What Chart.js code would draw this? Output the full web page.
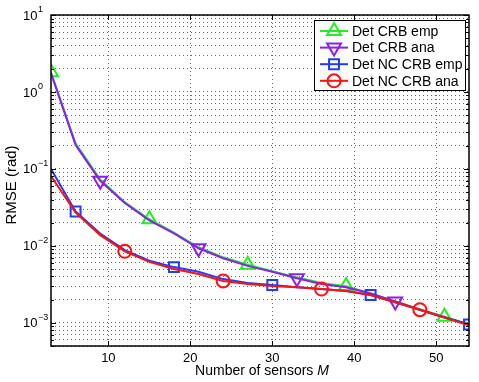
<!DOCTYPE html>
<html>
<head>
<meta charset="utf-8">
<script src="https://cdn.jsdelivr.net/npm/chart.js@4"></script>
<style>
  html, body { margin: 0; padding: 0; background: #fff; }
  #wrap { width: 479px; height: 382px; }
</style>
</head>
<body>
<div id="wrap"><canvas id="rmseChart" width="479" height="382"></canvas></div>
<script>
// Number of sensors M (every 3)
const sensors = [3, 6, 9, 12, 15, 18, 21, 24, 27, 30, 33, 36, 39, 42, 45, 48, 51, 54];

// RMSE values (rad)
const detCrbEmp = [1.8, 0.215, 0.073, 0.037, 0.0222, 0.0149, 0.0096, 0.0071, 0.0057, 0.0047, 0.0039, 0.0033, 0.0030, 0.0024, 0.0019, 0.00150, 0.00120, 0.00096];
const detCrbAna = [1.75, 0.205, 0.070, 0.036, 0.0215, 0.0145, 0.0093, 0.0069, 0.0055, 0.0046, 0.0038, 0.0032, 0.0029, 0.0024, 0.0019, 0.00148, 0.00118, 0.00095];
const detNcCrbEmp = [0.100, 0.028, 0.0145, 0.0088, 0.0064, 0.0053, 0.0046, 0.0037, 0.0033, 0.0031, 0.0029, 0.00275, 0.0026, 0.0023, 0.00185, 0.00148, 0.00117, 0.00095];
const detNcCrbAna = [0.081, 0.027, 0.0138, 0.0085, 0.0062, 0.0050, 0.0043, 0.0035, 0.0032, 0.0030, 0.0029, 0.00275, 0.0026, 0.0023, 0.00185, 0.00148, 0.00117, 0.00093];

const seriesNames = ['Det CRB emp', 'Det CRB ana', 'Det NC CRB emp', 'Det NC CRB ana'];
const xTicks = [10, 20, 30, 40, 50];
const yExponents = [1, 0, -1, -2, -3];

const FONT = '"Liberation Sans", Arial, Helvetica, sans-serif';

function toPoints(vals) {
  return sensors.map((m, i) => ({ x: m, y: vals[i] }));
}

// marker every 12 sensors, with an offset per series
function markerEvery(offsetM, r) {
  return function (ctx) {
    const m = sensors[ctx.dataIndex];
    return ((m - offsetM) % 12 === 0 && m >= offsetM) ? r : 0;
  };
}

const styles = [
  { color: '#22ee22', shape: 'triangle', rot: 0, r: 8, offset: 3, order: 3 },
  { color: '#8a1ff0', shape: 'triangle', rot: 180, r: 8, offset: 9, order: 2 },
  { color: '#1f3cff', shape: 'rect', rot: 0, r: 7, offset: 6, order: 1 },
  { color: '#ff1010', shape: 'circle', rot: 0, r: 6.5, offset: 12, order: 0 }
];
const allValues = [detCrbEmp, detCrbAna, detNcCrbEmp, detNcCrbAna];

const datasets = allValues.map((vals, i) => ({
  label: seriesNames[i],
  data: toPoints(vals),
  borderColor: styles[i].color,
  borderWidth: 2,
  tension: 0,
  fill: false,
  order: styles[i].order,
  pointStyle: styles[i].shape,
  pointRotation: styles[i].rot,
  pointRadius: markerEvery(styles[i].offset, styles[i].r),
  pointHoverRadius: 0,
  pointBorderColor: styles[i].color,
  pointBackgroundColor: 'rgba(0,0,0,0)',
  pointBorderWidth: 2
}));

function drawMarker(ctx, shape, rot, x, y, r) {
  ctx.beginPath();
  if (shape === 'circle') {
    ctx.arc(x, y, r, 0, Math.PI * 2);
  } else if (shape === 'rect') {
    const s = r * Math.SQRT1_2;
    ctx.rect(x - s, y - s, 2 * s, 2 * s);
  } else {
    const a = rot * Math.PI / 180;
    for (let k = 0; k < 3; k++) {
      const t = a + k * 2 * Math.PI / 3;
      const px = x + Math.sin(t) * r;
      const py = y - Math.cos(t) * r;
      if (k === 0) ctx.moveTo(px, py); else ctx.lineTo(px, py);
    }
    ctx.closePath();
  }
  ctx.stroke();
}

const decorations = {
  id: 'decorations',
  afterDraw(chart) {
    const ctx = chart.ctx;
    const a = chart.chartArea;
    const xs = chart.scales.x;
    const ys = chart.scales.y;
    ctx.save();

    // inward tick marks
    ctx.strokeStyle = '#000';
    ctx.lineWidth = 1;
    ys.ticks.forEach(t => {
      const y = Math.round(ys.getPixelForValue(t.value)) + 0.5;
      const len = t.major ? 5 : 3;
      ctx.beginPath();
      ctx.moveTo(a.left, y); ctx.lineTo(a.left + len, y);
      ctx.moveTo(a.right, y); ctx.lineTo(a.right - len, y);
      ctx.stroke();
    });
    xTicks.forEach(v => {
      const x = Math.round(xs.getPixelForValue(v)) + 0.5;
      ctx.beginPath();
      ctx.moveTo(x, a.bottom); ctx.lineTo(x, a.bottom - 5);
      ctx.moveTo(x, a.top); ctx.lineTo(x, a.top + 5);
      ctx.stroke();
    });

    // axes box
    ctx.lineWidth = 1.5;
    ctx.strokeRect(a.left, a.top, a.right - a.left, a.bottom - a.top);

    // y tick labels with superscript exponents
    ctx.fillStyle = '#000';
    ctx.textBaseline = 'middle';
    ctx.textAlign = 'left';
    yExponents.forEach(e => {
      const y = ys.getPixelForValue(Math.pow(10, e));
      ctx.font = '13px ' + FONT;
      ctx.fillText('10', 23, y + 1);
      const w = ctx.measureText('10').width;
      ctx.font = '9px ' + FONT;
      ctx.fillText(e < 0 ? '\u2212' + (-e) : String(e), 23 + w + 0.5, y - 5);
    });

    // y title
    ctx.save();
    ctx.translate(12, 185);
    ctx.rotate(-Math.PI / 2);
    ctx.textAlign = 'center';
    ctx.font = '15px ' + FONT;
    ctx.fillText('RMSE (rad)', 0, 0);
    ctx.restore();

    // x title with italic M
    ctx.font = '14px ' + FONT;
    const part1 = 'Number of sensors ';
    const w1 = ctx.measureText(part1).width;
    ctx.font = 'italic 14px ' + FONT;
    const w2 = ctx.measureText('M').width;
    const x0 = 262 - (w1 + w2) / 2;
    ctx.font = '14px ' + FONT;
    ctx.fillText(part1, x0, 371);
    ctx.font = 'italic 14px ' + FONT;
    ctx.fillText('M', x0 + w1, 371);

    // legend
    const lx = 314, ly = 20, lw = 151, lh = 70;
    ctx.fillStyle = '#fff';
    ctx.fillRect(lx, ly, lw, lh);
    ctx.strokeStyle = '#000';
    ctx.lineWidth = 1;
    ctx.strokeRect(lx + 0.5, ly + 0.5, lw, lh);
    seriesNames.forEach((name, i) => {
      const y = 31 + i * 16.6;
      const st = styles[i];
      ctx.strokeStyle = st.color;
      ctx.lineWidth = 2;
      ctx.beginPath();
      ctx.moveTo(320, y); ctx.lineTo(348, y);
      ctx.stroke();
      drawMarker(ctx, st.shape, st.rot, 334, y, st.r);
      ctx.fillStyle = '#000';
      ctx.font = '14px ' + FONT;
      ctx.textAlign = 'left';
      ctx.textBaseline = 'middle';
      ctx.fillText(name, 352, y + 1);
    });

    ctx.restore();
  }
};

const ctx = document.getElementById('rmseChart').getContext('2d');
new Chart(ctx, {
  type: 'line',
  data: { datasets: datasets },
  options: {
    responsive: false,
    animation: false,
    events: [],
    layout: { padding: { top: 15, right: 10, left: 0, bottom: 0 } },
    plugins: {
      legend: { display: false },
      tooltip: { enabled: false }
    },
    scales: {
      x: {
        type: 'linear',
        min: 3,
        max: 54,
        afterBuildTicks: s => { s.ticks = xTicks.map(v => ({ value: v })); },
        afterFit: s => { s.height = 36; },
        grid: { color: '#6a6a6a', lineWidth: 1, drawTicks: false },
        border: { display: false, dash: [1, 3] },
        ticks: {
          padding: 5,
          color: '#000',
          font: { family: FONT, size: 13 },
          callback: v => String(v)
        }
      },
      y: {
        type: 'logarithmic',
        min: 5e-4,
        max: 10,
        afterBuildTicks: s => {
          const t = [];
          for (let e = -4; e <= 0; e++) {
            for (let m = 1; m <= 9; m++) {
              const v = m * Math.pow(10, e);
              if (v >= 5e-4 && v <= 10) t.push({ value: v, major: m === 1 });
            }
          }
          t.push({ value: 10, major: true });
          s.ticks = t;
        },
        afterFit: s => { s.width = 51; },
        grid: { color: '#6a6a6a', lineWidth: 1, drawTicks: false },
        border: { display: false, dash: [1, 3] },
        ticks: { display: false }
      }
    }
  },
  plugins: [decorations]
});
</script>
</body>
</html>
